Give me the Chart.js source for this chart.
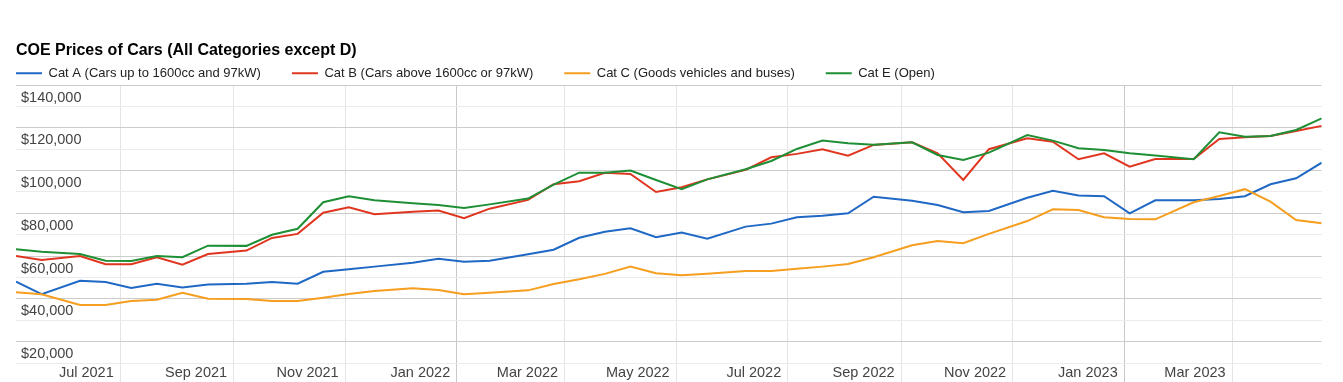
<!DOCTYPE html>
<html>
<head>
<meta charset="utf-8">
<title>COE Prices of Cars</title>
<script src="https://cdn.jsdelivr.net/npm/chart.js@4.4.1/dist/chart.umd.min.js"></script>
<style>
  html, body { margin: 0; padding: 0; overflow: hidden; background: #fff; }
  canvas { display: block; }
</style>
</head>
<body>
<canvas id="coe" width="1343" height="392"></canvas>
<script>
// bidding dates (x) and premiums per category
const biddingDates = [
  "2021-05-05", "2021-05-19", "2021-06-09", "2021-06-23", "2021-07-07", "2021-07-21",
  "2021-08-04", "2021-08-18", "2021-09-08", "2021-09-22", "2021-10-06", "2021-10-20",
  "2021-11-03", "2021-11-17", "2021-12-08", "2021-12-22", "2022-01-05", "2022-01-19",
  "2022-02-09", "2022-02-23", "2022-03-09", "2022-03-23", "2022-04-06", "2022-04-20",
  "2022-05-04", "2022-05-18", "2022-06-08", "2022-06-22", "2022-07-06", "2022-07-20",
  "2022-08-03", "2022-08-17", "2022-09-07", "2022-09-21", "2022-10-05", "2022-10-19",
  "2022-11-09", "2022-11-23", "2022-12-07", "2022-12-21", "2023-01-04", "2023-01-18",
  "2023-02-08", "2023-02-22", "2023-03-08", "2023-03-22", "2023-04-05", "2023-04-19",
];

const catA = [
  48100, 42200, 48500, 47900, 45100, 47100, 45300, 46700, 47100, 47900, 47100, 52700,
  53900, 55100, 56900, 58800, 57400, 57900, 60900, 63000, 68600, 71400, 73000, 68800,
  71000, 68200, 73800, 75200, 78200, 78900, 80000, 87800, 85900, 83900, 80500, 81100,
  87300, 90600, 88300, 88000, 80000, 86100, 86100, 86700, 88000, 93600, 96400, 103700,
];
const catB = [
  60100, 58200, 60100, 56200, 56200, 59500, 56000, 61000, 62600, 68500, 70400, 80300,
  82800, 79600, 80800, 81300, 77700, 82200, 86300, 93600, 95000, 99000, 98400, 90000,
  92200, 95900, 100300, 106200, 107800, 110000, 107000, 112000, 113200, 108100, 95600, 110000,
  115100, 113500, 105300, 108100, 101800, 105400, 105400, 114800, 115600, 116200, 118500, 120900,
];
const catC = [
  43100, 42200, 37200, 37200, 39000, 39600, 42900, 40100, 40000, 39000, 39000, 40600,
  42300, 43700, 45000, 44200, 42200, 42900, 44000, 47000, 49200, 51700, 55100, 52000,
  51100, 51800, 53100, 53100, 54100, 55100, 56300, 59500, 65100, 67100, 66000, 70400,
  76400, 81900, 81600, 78200, 77400, 77200, 85200, 88100, 91300, 85500, 76900, 75400,
];
const catE = [
  63200, 62100, 61000, 57900, 57700, 60100, 59500, 64900, 64800, 70000, 72800, 85200,
  88000, 86100, 84700, 83900, 82500, 84200, 86900, 93400, 99000, 99000, 100000, 95600,
  91300, 95900, 100600, 104500, 110100, 114000, 112800, 112100, 113200, 107300, 105000, 108400,
  116600, 114000, 110400, 109600, 108100, 107000, 105300, 117900, 115800, 116200, 119000, 124400,
];

const seriesNames = [
  "Cat A (Cars up to 1600cc and 97kW)",
  "Cat B (Cars above 1600cc or 97kW)",
  "Cat C (Goods vehicles and buses)",
  "Cat E (Open)",
];
const seriesColors = ["#1f68c4", "#e0361f", "#f59e1f", "#1f8f35"];

const tickDates = [
  "2021-07-01", "2021-09-01", "2021-11-01", "2022-01-01", "2022-03-01", "2022-05-01",
  "2022-07-01", "2022-09-01", "2022-11-01", "2023-01-01", "2023-03-01",
];
const tickLabels = [
  "Jul 2021", "Sep 2021", "Nov 2021", "Jan 2022", "Mar 2022", "May 2022",
  "Jul 2022", "Sep 2022", "Nov 2022", "Jan 2023", "Mar 2023",
];

const FONT = "'Liberation Sans', Arial, sans-serif";
const DAY = 86400000;
const t0 = Date.parse(biddingDates[0]);
const toDay = (d) => Math.round((Date.parse(d) - t0) / DAY);
const xDays = biddingDates.map(toDay);
const tickDays = tickDates.map(toDay);

const points = (values) => values.map((v, i) => ({ x: xDays[i], y: v }));

// legend box is a few px taller than the original; trim it so the plot starts right under it
const legendTrim = {
  id: "legendTrim",
  beforeLayout(chart, args, opts) {
    const legend = chart.legend;
    if (!legend || legend.$trimmed) return;
    const fit = legend.fit;
    legend.fit = function () {
      fit.call(this);
      this.height -= opts.trim;
    };
    legend.$trimmed = true;
  },
};

const ctx = document.getElementById("coe").getContext("2d");
new Chart(ctx, {
  type: "line",
  data: {
    datasets: [catA, catB, catC, catE].map((vals, i) => ({
      label: seriesNames[i],
      data: points(vals),
      borderColor: seriesColors[i],
      backgroundColor: seriesColors[i],
      order: 3 - i,
    })),
  },
  plugins: [legendTrim],
  options: {
    responsive: false,
    animation: false,
    events: [],
    layout: { padding: { left: -15, right: 21.3, top: 0, bottom: 7.5 } },
    elements: {
      point: { radius: 0, hoverRadius: 0 },
      line: { borderWidth: 2, tension: 0 },
    },
    plugins: {
      title: {
        display: true,
        text: "COE Prices of Cars (All Categories except D)",
        align: "start",
        fullSize: false,
        color: "#000",
        font: { family: FONT, size: 16, weight: "bold" },
        padding: { top: 40.9, bottom: -24.3 },
      },
      legend: {
        align: "start",
        labels: {
          boxWidth: 26,
          boxHeight: 2,
          padding: 31,
          color: "#222",
          font: { family: FONT, size: 13 },
          generateLabels(chart) {
            const items = Chart.defaults.plugins.legend.labels.generateLabels(chart);
            items.sort((a, b) => a.datasetIndex - b.datasetIndex);
            items.forEach((it) => { it.lineWidth = 0; });
            return items;
          },
        },
      },
      legendTrim: { trim: 4.8 },
      tooltip: { enabled: false },
    },
    scales: {
      x: {
        type: "linear",
        min: 0,
        max: xDays[xDays.length - 1],
        position: { y: 10000 },
        afterBuildTicks(scale) {
          scale.ticks = tickDays.map((v) => ({ value: v }));
        },
        border: { display: false },
        grid: {
          drawTicks: false,
          color: (c) => (tickLabels[c.index] || "").startsWith("Jan") ? "#c8c8c8" : "#e4e4e4",
        },
        ticks: {
          autoSkip: false,
          maxRotation: 0,
          align: "end",
          labelOffset: -6.5,
          padding: 1,
          color: "#444",
          font: { family: FONT, size: 14.5 },
          callback: (v, i) => tickLabels[i],
        },
      },
      y: {
        min: 0,
        max: 140000,
        afterFit(scale) {
          scale.width = 31;
          scale.paddingTop = 0;
          scale.paddingBottom = 0;
        },
        border: { display: false },
        grid: {
          drawTicks: false,
          color: (c) => (c.tick.value % 20000 === 0 ? "#cccccc" : "#ebebeb"),
        },
        ticks: {
          stepSize: 10000,
          autoSkip: false,
          mirror: true,
          padding: 5,
          labelOffset: 12.5,
          color: "#444",
          font: { family: FONT, size: 14.5 },
          callback: (v) => (v % 20000 === 0 ? "$" + v.toLocaleString("en-US") : ""),
        },
      },
    },
  },
});
</script>
</body>
</html>
